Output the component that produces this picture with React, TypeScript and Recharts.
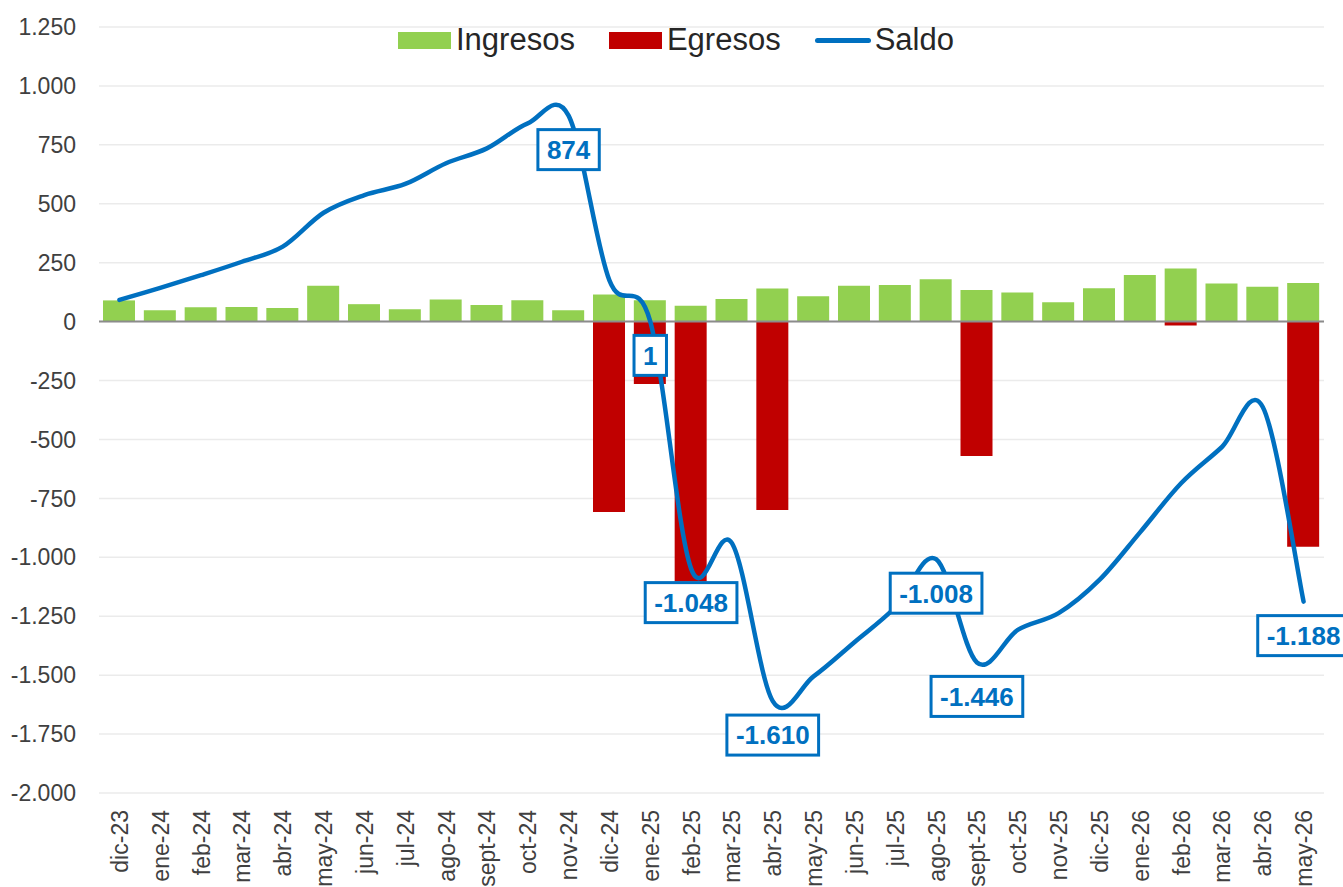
import {
  ComposedChart, Bar, Line, XAxis, YAxis, CartesianGrid,
  ReferenceLine, Legend, LabelList,
} from "recharts";

const MESES = [
  "dic-23", "ene-24", "feb-24", "mar-24", "abr-24", "may-24", "jun-24", "jul-24",
  "ago-24", "sept-24", "oct-24", "nov-24", "dic-24", "ene-25", "feb-25", "mar-25",
  "abr-25", "may-25", "jun-25", "jul-25", "ago-25", "sept-25", "oct-25", "nov-25",
  "dic-25", "ene-26", "feb-26", "mar-26", "abr-26", "may-26",
];

const INGRESOS = [
  90, 48, 61, 62, 58, 152, 74, 52, 94, 70, 91, 48, 115, 91, 67, 96,
  140, 108, 152, 155, 180, 134, 124, 82, 142, 198, 225, 162, 148, 164,
];

const EGRESOS = [
  0, 0, 0, 0, 0, 0, 0, 0, 0, 0, 0, 0, -808, -265, -1103, 0,
  -799, 0, 0, 0, 0, -570, 0, 0, 0, 0, -16, 0, 0, -955,
];

const SALDO = [
  92, 143, 197, 254, 318, 462, 537, 584, 672, 735, 841, 874, 175, 1, -1048, -940,
  -1610, -1505, -1360, -1212, -1008, -1446, -1308, -1237, -1096, -893, -686, -532, -362, -1188,
];

// months whose Saldo value gets a boxed label
const CON_ETIQUETA = ["nov-24", "ene-25", "feb-25", "abr-25", "ago-25", "sept-25", "may-26"];

const SERIES = ["Ingresos", "Egresos", "Saldo"];

const Y_TICKS = [1250, 1000, 750, 500, 250, 0, -250, -500, -750, -1000, -1250, -1500, -1750, -2000];

const FONT = '"Liberation Sans", Arial, Helvetica, sans-serif';
const VERDE = "#92D050";
const ROJO = "#C00000";
const AZUL = "#0070C0";
const TEXTO = "#404040";

// 1250 -> "1.250", -1048 -> "-1.048"
function fmt(v: number): string {
  const s = Math.abs(Math.round(v)).toString().replace(/\B(?=(\d{3})+(?!\d))/g, ".");
  return (v < 0 ? "-" : "") + s;
}

const data = MESES.map((mes, i) => ({
  mes,
  Ingresos: INGRESOS[i],
  Egresos: EGRESOS[i],
  Saldo: SALDO[i],
  etiqueta: CON_ETIQUETA.includes(mes) ? fmt(SALDO[i]) : null,
}));

// Excel-like smoothed line: Catmull-Rom bezier through every point
function excelSmooth(context: any) {
  let pts: [number, number][] = [];
  return {
    areaStart() {},
    areaEnd() {},
    lineStart() { pts = []; },
    point(x: number, y: number) { pts.push([+x, +y]); },
    lineEnd() {
      if (!pts.length) return;
      context.moveTo(pts[0][0], pts[0][1]);
      for (let i = 0; i < pts.length - 1; i++) {
        const p0 = pts[i - 1] ?? pts[i];
        const p1 = pts[i];
        const p2 = pts[i + 1];
        const p3 = pts[i + 2] ?? p2;
        context.bezierCurveTo(
          p1[0] + (p2[0] - p0[0]) / 6, p1[1] + (p2[1] - p0[1]) / 6,
          p2[0] - (p3[0] - p1[0]) / 6, p2[1] - (p3[1] - p1[1]) / 6,
          p2[0], p2[1],
        );
      }
    },
  };
}

const LABEL_FS = 26;
function anchoTexto(t: string): number {
  let w = 0;
  for (const c of t) w += c === "." ? 0.278 : c === "-" ? 0.333 : 0.556;
  return w * LABEL_FS;
}

function SaldoLabel(props: any) {
  const { value, viewBox } = props;
  if (value == null || value === "") return null;
  const x = props.x ?? viewBox?.x;
  const y = props.y ?? viewBox?.y;
  if (x == null || y == null) return null;
  const w = anchoTexto(String(value)) + 18;
  const h = 40;
  const cy = y + 34;
  return (
    <g>
      <rect x={x - w / 2} y={cy - h / 2} width={w} height={h} fill="#fff" stroke={AZUL} strokeWidth={3} />
      <text x={x} y={cy} dy="0.36em" textAnchor="middle" fill={AZUL}
        fontFamily={FONT} fontSize={LABEL_FS} fontWeight="bold">
        {value}
      </text>
    </g>
  );
}

function XTick({ x, y, payload }: any) {
  return (
    <text x={x} y={y} dy={8.5} transform={`rotate(-90 ${x} ${y})`} textAnchor="end"
      fill={TEXTO} fontFamily={FONT} fontSize={23}>
      {payload.value}
    </text>
  );
}

function Leyenda({ payload }: any) {
  const items = [...(payload ?? [])].sort(
    (a: any, b: any) => SERIES.indexOf(a.value) - SERIES.indexOf(b.value),
  );
  return (
    <div style={{ display: "flex", alignItems: "center", fontFamily: FONT, fontSize: 31, color: "#262626" }}>
      {items.map((p: any, i: number) => (
        <div key={p.value} style={{ display: "flex", alignItems: "center", marginLeft: i === 0 ? 0 : 34 }}>
          {p.type === "line" ? (
            <div style={{ width: 56, height: 5, borderRadius: 3, background: p.color, marginRight: 4 }} />
          ) : (
            <div style={{ width: 53, height: 17, background: p.color, marginRight: 5 }} />
          )}
          <span>{p.value}</span>
        </div>
      ))}
    </div>
  );
}

export default function App() {
  return (
    <div style={{ position: "absolute", left: 0, top: 0, background: "#fff" }}>
      <ComposedChart
        width={1343}
        height={887}
        data={data}
        stackOffset="sign"
        margin={{ top: 27, right: 19, bottom: 0, left: 0 }}
      >
        <CartesianGrid vertical={false} stroke="#EBEBEB" strokeWidth={1.5} />
        <XAxis
          dataKey="mes"
          interval={0}
          height={94}
          axisLine={false}
          tickLine={false}
          tickSize={0}
          tickMargin={17}
          tick={<XTick />}
        />
        <YAxis
          width={99}
          domain={[-2000, 1250]}
          ticks={Y_TICKS}
          interval={0}
          axisLine={false}
          tickLine={false}
          tickSize={0}
          tickMargin={23}
          tickFormatter={fmt}
          tick={{ fill: TEXTO, fontSize: 23, fontFamily: FONT }}
        />
        <Legend
          verticalAlign="middle"
          align="center"
          layout="horizontal"
          wrapperStyle={{ top: 22, left: 398, width: 700 }}
          content={<Leyenda />}
        />
        <Bar dataKey="Ingresos" stackId="s" fill={VERDE} barSize={32} isAnimationActive={false} />
        <Bar dataKey="Egresos" stackId="s" fill={ROJO} barSize={32} isAnimationActive={false} />
        <ReferenceLine y={0} stroke="#8C8C8C" strokeWidth={2} />
        <Line
          dataKey="Saldo"
          type={excelSmooth as any}
          stroke={AZUL}
          strokeWidth={4.5}
          strokeLinecap="round"
          dot={false}
          activeDot={false}
          isAnimationActive={false}
        >
          <LabelList dataKey="etiqueta" content={<SaldoLabel />} />
        </Line>
      </ComposedChart>
    </div>
  );
}
